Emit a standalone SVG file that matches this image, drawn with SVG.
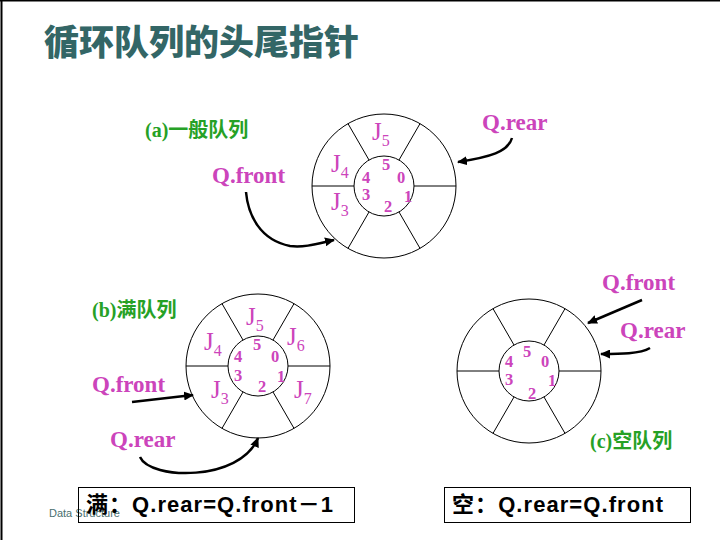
<svg xmlns="http://www.w3.org/2000/svg" xmlns:xlink="http://www.w3.org/1999/xlink" width="720" height="540" viewBox="0 0 720 540">
<style>
.ln{fill:none;stroke:#000;stroke-width:1}
.pk{fill:#cc44bb;font-family:"Liberation Serif",serif}
.ptr{font-size:23px;font-weight:bold}
.j{font-size:25px}
.sub{font-size:16px}
.num{font-size:16.5px;font-weight:bold}
.gr{fill:#26a126;font-family:"Liberation Serif","Noto Sans CJK SC",serif;font-size:20px;font-weight:bold}
.arr{fill:none;stroke:#000;stroke-width:2.5;marker-end:url(#ah)}
.form{font-family:"Liberation Sans","Noto Sans CJK SC",sans-serif;font-size:22px;font-weight:bold;fill:#000}
</style>
<defs>
<marker id="ah" markerUnits="userSpaceOnUse" markerWidth="11" markerHeight="9" refX="9" refY="4.5" orient="auto">
<path d="M0,0 L10,4.5 L0,9 z" fill="#000"/>
</marker>
<g id="wheel" class="ln">
<circle r="72"/>
<circle r="30"/>
<line x1="30" y1="0" x2="72" y2="0"/>
<line x1="-30" y1="0" x2="-72" y2="0"/>
<line x1="15" y1="-26" x2="36" y2="-62.35"/>
<line x1="-15" y1="-26" x2="-36" y2="-62.35"/>
<line x1="-15" y1="26" x2="-36" y2="62.35"/>
<line x1="15" y1="26" x2="36" y2="62.35"/>
</g>
</defs>
<rect width="720" height="540" fill="#fff"/>
<line x1="0" y1="0.5" x2="720" y2="0.5" stroke="#000" stroke-width="2"/>
<line x1="1.5" y1="0" x2="1.5" y2="540" stroke="#000" stroke-width="2"/>

<g id="title">
<text x="44" y="55" font-family="'Noto Sans CJK SC',sans-serif" font-size="35" font-weight="900" fill="#336666">循环队列的头尾指针</text>
</g>

<g id="queue-a">
<text class="gr" x="145" y="137">(a)一般队列</text>
<use xlink:href="#wheel" href="#wheel" transform="translate(384,186)"/>
<g class="pk">
<text class="j" x="372" y="140">J<tspan class="sub" dy="6">5</tspan></text>
<text class="j" x="331" y="172">J<tspan class="sub" dy="6">4</tspan></text>
<text class="j" x="331" y="210">J<tspan class="sub" dy="6">3</tspan></text>
<text class="num" x="382" y="170">5</text>
<text class="num" x="362" y="183">4</text>
<text class="num" x="397" y="183">0</text>
<text class="num" x="362" y="200">3</text>
<text class="num" x="404" y="202">1</text>
<text class="num" x="384" y="212">2</text>
<text class="ptr" x="212" y="183">Q.front</text>
<text class="ptr" x="482" y="130">Q.rear</text>
</g>
</g>

<g id="queue-b">
<text class="gr" x="92" y="317">(b)满队列</text>
<use xlink:href="#wheel" href="#wheel" transform="translate(258,366)"/>
<g class="pk">
<text class="j" x="246" y="325">J<tspan class="sub" dy="6">5</tspan></text>
<text class="j" x="287" y="345">J<tspan class="sub" dy="6">6</tspan></text>
<text class="j" x="204" y="350">J<tspan class="sub" dy="6">4</tspan></text>
<text class="j" x="211" y="398">J<tspan class="sub" dy="6">3</tspan></text>
<text class="j" x="294" y="398">J<tspan class="sub" dy="6">7</tspan></text>
<text class="num" x="253" y="350">5</text>
<text class="num" x="234" y="362">4</text>
<text class="num" x="271" y="362">0</text>
<text class="num" x="234" y="381">3</text>
<text class="num" x="277" y="382">1</text>
<text class="num" x="258" y="392">2</text>
<text class="ptr" x="92" y="392">Q.front</text>
<text class="ptr" x="110" y="447">Q.rear</text>
</g>
</g>

<g id="queue-c">
<use xlink:href="#wheel" href="#wheel" transform="translate(529,371)"/>
<g class="pk">
<text class="num" x="523" y="357">5</text>
<text class="num" x="505" y="367">4</text>
<text class="num" x="541" y="367">0</text>
<text class="num" x="505" y="385">3</text>
<text class="num" x="548" y="386">1</text>
<text class="num" x="528" y="399">2</text>
<text class="ptr" x="602" y="290">Q.front</text>
<text class="ptr" x="620" y="338">Q.rear</text>
</g>
<text class="gr" x="590" y="448">(c)空队列</text>
</g>

<g id="connectors">
<path class="arr" d="M246,192 C248,215 260,240 290,246 C305,248 320,243 334,240"/>
<path class="arr" d="M512,138 C508,152 490,157 458,162"/>
<path class="arr" d="M132,402 L193,395"/>
<path class="arr" d="M140,457 C150,480 240,482 258,438"/>
<path class="arr" d="M642,300 L588,323"/>
<path class="arr" d="M650,348 C640,354 620,354 601,354"/>
</g>

<g id="footer">
<text x="49" y="517" font-family="'Liberation Sans',sans-serif" font-size="11" fill="#4a7070">Data Structure</text>
</g>

<g id="formula-full">
<rect class="ln" x="78.5" y="487.5" width="276" height="35"/>
<text class="form" x="86" y="512" textLength="247" lengthAdjust="spacing">满：Q.rear=Q.front－1</text>
</g>
<g id="formula-empty">
<rect class="ln" x="444.5" y="487.5" width="246" height="35"/>
<text class="form" x="452" y="512" textLength="211" lengthAdjust="spacing">空：Q.rear=Q.front</text>
</g>
</svg>
